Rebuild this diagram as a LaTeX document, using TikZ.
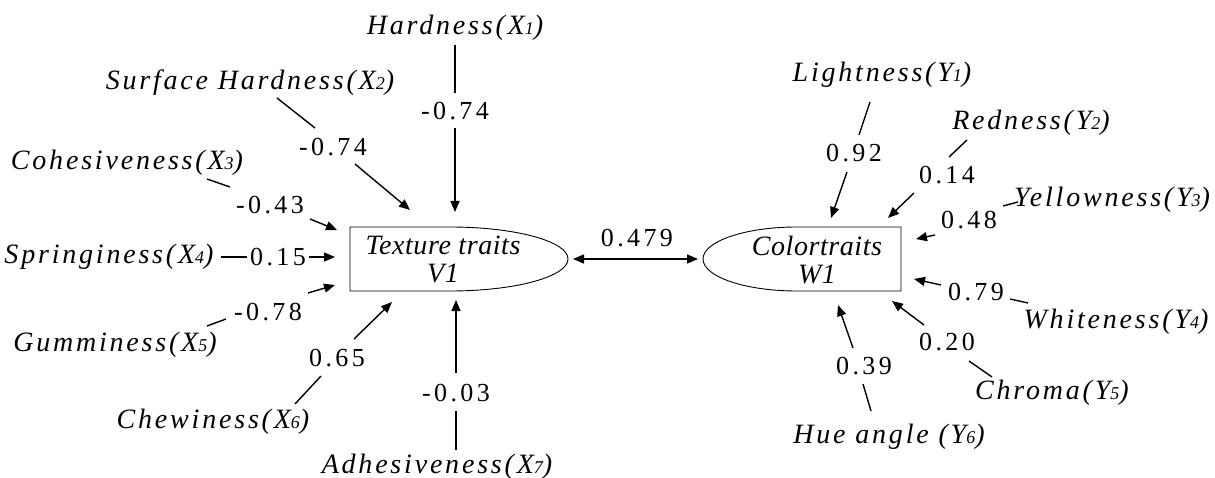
\documentclass[tikz,border=0pt]{standalone}
\usepackage{fontspec}
\setmainfont{Liberation Serif}
\newfontfamily\lblfont[LetterSpace=10]{Liberation Serif}
\newfontfamily\diafont[LetterSpace=13]{Liberation Serif}
\newfontfamily\latfont[LetterSpace=2]{Liberation Serif}
\usetikzlibrary{arrows.meta}
\newcommand{\sd}[1]{{\fontsize{18}{18}\selectfont #1}}
\begin{document}
\begin{tikzpicture}[x=1pt,y=1pt,
  lbl/.style={font={\lblfont\itshape\fontsize{28}{30}\selectfont}, inner sep=2pt},
  num/.style={font={\diafont\fontsize{26}{28}\selectfont}, inner sep=2pt},
  lv/.style={font={\latfont\itshape\fontsize{28}{28}\selectfont}, align=center, inner sep=0pt},
  conn/.style={line width=1.4pt},
  arr/.style={conn, -{Triangle[length=11pt,width=9pt]}},
  darr/.style={conn, {Triangle[length=11pt,width=9pt]}-{Triangle[length=11pt,width=9pt]}},
  latent/.style={line width=0.9pt}
]
\useasboundingbox (0,0) rectangle (1215,-478);

% latent variable shapes
\draw[latent] (350,-227) -- (450,-227) .. controls (515.2,-227) and (568,-241.3) .. (568,-259)
  .. controls (568,-276.7) and (515.2,-291) .. (450,-291) -- (350,-291) -- cycle;
\draw[latent] (901,-227) -- (797,-227) .. controls (745.1,-227) and (703,-241.3) .. (703,-259)
  .. controls (703,-276.7) and (745.1,-291) .. (797,-291) -- (901,-291) -- cycle;
\node[lv] (tex) at (443,-259) {Texture traits\\V1};
\node[lv] (col) at (817,-260) {Colortraits\\W1};
\coordinate (textip) at (568,-259);
\coordinate (coltip) at (703,-259);
\node[num] (cor) at (637,-238) {0.479};
\draw[darr, shorten <=5pt, shorten >=5pt] (textip) -- (coltip);

% indicator labels
\node[lbl] (l1) at (455,-28) {Hardness(X\sd{1})};
\node[lbl] (l2) at (250,-83) {Surface Hardness(X\sd{2})};
\node[lbl] (l3) at (127,-163) {Cohesiveness(X\sd{3})};
\node[lbl] (l4) at (109,-257) {Springiness(X\sd{4})};
\node[lbl] (l5) at (115,-345) {Gumminess(X\sd{5})};
\node[lbl] (l6) at (213,-422) {Chewiness(X\sd{6})};
\node[lbl] (l7) at (437,-467) {Adhesiveness(X\sd{7})};
\node[lbl] (m1) at (882,-75) {Lightness(Y\sd{1})};
\node[lbl] (m2) at (1031,-123) {Redness(Y\sd{2})};
\node[lbl] (m3) at (1112,-200) {Yellowness(Y\sd{3})};
\node[lbl] (m4) at (1116,-322) {Whiteness(Y\sd{4})};
\node[lbl] (m5) at (1052,-393) {Chroma(Y\sd{5})};
\node[lbl] (m6) at (889,-437) {Hue angle (Y\sd{6})};

% loadings
\node[num] (n1) at (455,-111) {-0.74};
\node[num] (n2) at (333,-147) {-0.74};
\node[num] (n3) at (270,-205) {-0.43};
\node[num] (n4) at (278,-257) {0.15};
\node[num] (n5) at (268,-312) {-0.78};
\node[num] (n6) at (337,-358) {0.65};
\node[num] (n7) at (456,-393) {-0.03};
\node[num] (p1) at (854,-153) {0.92};
\node[num] (p2) at (947,-175) {0.14};
\node[num] (p3) at (969,-220) {0.48};
\node[num] (p4) at (976,-292) {0.79};
\node[num] (p5) at (947,-342) {0.20};
\node[num] (p6) at (864,-366) {0.39};

% arrow tips
\coordinate (t1) at (455,-212);
\coordinate (t2) at (410,-210);
\coordinate (t3) at (337,-230);
\coordinate (t4) at (335,-257);
\coordinate (t5) at (335,-285);
\coordinate (t6) at (392,-302);
\coordinate (t7) at (456,-300);
\coordinate (u1) at (831,-218);
\coordinate (u2) at (888,-218);
\coordinate (u3) at (916,-239);
\coordinate (u4) at (914,-279);
\coordinate (u5) at (892,-301);
\coordinate (u6) at (838,-305);

% texture connectors
\draw[conn] ([shift={(0,-17)}]l1.center) -- ([shift={(0,18)}]n1.center);
\draw[arr] ([shift={(0,-17)}]n1.center) -- (t1);
\draw[conn] ([shift={(27,-15)}]l2.center) -- ([shift={(-18,19)}]n2.center);
\draw[arr] ([shift={(22,-17)}]n2.center) -- (t2);
\draw[conn] ([shift={(80,-16)}]l3.center) -- ([shift={(-40,18)}]n3.center);
\draw[arr] ([shift={(40,-14)}]n3.center) -- (t3);
\draw[conn] ([shift={(112,0)}]l4.center) -- ([shift={(-31,0)}]n4.center);
\draw[arr] ([shift={(31,0)}]n4.center) -- (t4);
\draw[conn] ([shift={(92,19)}]l5.center) -- ([shift={(-42,-7)}]n5.center);
\draw[arr] ([shift={(40,19)}]n5.center) -- (t5);
\draw[conn] ([shift={(82,18)}]l6.center) -- ([shift={(-16,-18)}]n6.center);
\draw[arr] ([shift={(17,19)}]n6.center) -- (t6);
\draw[conn] ([shift={(19,17)}]l7.center) -- ([shift={(0,-18)}]n7.center);
\draw[arr] ([shift={(0,20)}]n7.center) -- (t7);

% colour connectors
\draw[conn] ([shift={(-12,-27)}]m1.center) -- ([shift={(5,18)}]p1.center);
\draw[arr] ([shift={(-7,-19)}]p1.center) -- (u1);
\draw[conn] ([shift={(-64,-17)}]m2.center) -- ([shift={(2,18)}]p2.center);
\draw[arr] ([shift={(-33,-18)}]p2.center) -- (u2);
\draw[conn] ([shift={(-94,-2)}]m3.center) -- ([shift={(34,14)}]p3.center);
\draw[arr] ([shift={(-34,-15)}]p3.center) -- (u3);
\draw[conn] ([shift={(-88,19)}]m4.center) -- ([shift={(34,-7)}]p4.center);
\draw[arr] ([shift={(-35,7)}]p4.center) -- (u4);
\draw[conn] ([shift={(-60,16)}]m5.center) -- ([shift={(22,-19)}]p5.center);
\draw[arr] ([shift={(-23,17)}]p5.center) -- (u5);
\draw[conn] ([shift={(-18,26)}]m6.center) -- ([shift={(-1,-18)}]p6.center);
\draw[arr] ([shift={(-11,18)}]p6.center) -- (u6);
\end{tikzpicture}
\end{document}
